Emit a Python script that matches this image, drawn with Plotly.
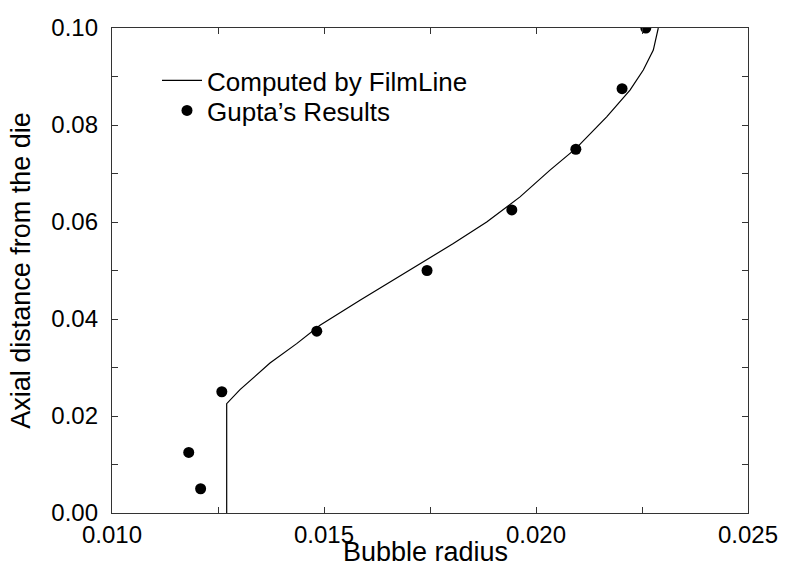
import plotly.graph_objects as go

# Computed by FilmLine (curve)
film_r = [0.012705, 0.012705, 0.013019, 0.013726, 0.014356, 0.014906, 0.015849,
          0.016950, 0.018050, 0.018837, 0.019623, 0.020330, 0.020943, 0.021667,
          0.022217, 0.022531, 0.022767, 0.022884]
film_z = [0.0, 0.02254, 0.02543, 0.03092, 0.03492, 0.03870, 0.04386,
          0.04970, 0.05556, 0.06002, 0.06518, 0.07069, 0.07517, 0.08169,
          0.08720, 0.09133, 0.09546, 0.1000]

# Gupta's Results
gupta_r = [0.01209, 0.01181, 0.01259, 0.01483, 0.01743, 0.01943, 0.02094, 0.02203, 0.02259]
gupta_z = [0.0050, 0.0125, 0.0250, 0.0375, 0.0500, 0.0625, 0.0750, 0.0875, 0.1000]

x_ticks = [0.010, 0.015, 0.020, 0.025]
y_ticks = [0.00, 0.02, 0.04, 0.06, 0.08, 0.10]

FONT = "Liberation Sans, Arial, Helvetica, sans-serif"

fig = go.Figure()
fig.add_trace(go.Scatter(x=film_r, y=film_z, mode="lines", name="Computed by FilmLine",
                         line=dict(color="black", width=1.2), showlegend=True,
                         legend="legend"))
fig.add_trace(go.Scatter(x=gupta_r, y=gupta_z, mode="markers", name="Gupta\u2019s Results",
                         marker=dict(color="black", size=11, symbol="circle"), showlegend=True,
                         legend="legend2"))

axis_common = dict(showline=True, linecolor="#333", linewidth=1.3, mirror="ticks",
                   ticks="inside", ticklen=6, tickcolor="#333", tickwidth=1,
                   showgrid=False, zeroline=False, automargin=False,
                   tickfont=dict(family=FONT, size=24, color="black"))

fig.update_xaxes(range=[0.010, 0.025], tickvals=x_ticks, tickformat=".3f",
                 minor=dict(ticks="inside", ticklen=6, dtick=0.0025, tickcolor="#333", showgrid=False),
                 ticklabelstandoff=0, **axis_common)
fig.update_yaxes(range=[0, 0.10], tickvals=y_ticks, tickformat=".2f",
                 minor=dict(ticks="inside", ticklen=6, dtick=0.01, tickcolor="#333", showgrid=False),
                 title=dict(text="Axial distance from the die", font=dict(family=FONT, size=27, color="black"), standoff=12),
                 ticklabelstandoff=8, **axis_common)

PL, PR, PT, PB = 112, 748, 28, 513
leg_common = dict(xref="paper", yref="paper", xanchor="left", yanchor="top",
                  bgcolor="rgba(0,0,0,0)", font=dict(family=FONT, size=26, color="black"))
fig.update_layout(width=785, height=567, margin=dict(l=PL, r=785 - PR, t=PT, b=567 - PB),
                  plot_bgcolor="white", paper_bgcolor="white", showlegend=True,
                  font=dict(family=FONT, color="black"),
                  legend=dict(x=(157 - PL) / (PR - PL), y=(PB - 57) / (PB - PT), itemwidth=40, **leg_common),
                  legend2=dict(x=(167 - PL) / (PR - PL), y=(PB - 87) / (PB - PT), itemwidth=30, **leg_common))

fig.add_annotation(text="Bubble radius", xref="paper", yref="paper",
                   x=(425 - PL) / (PR - PL), y=-(552 - PB) / (PB - PT),
                   xanchor="center", yanchor="middle", showarrow=False,
                   font=dict(family=FONT, size=27, color="black"))

fig.write_html("out.html")
